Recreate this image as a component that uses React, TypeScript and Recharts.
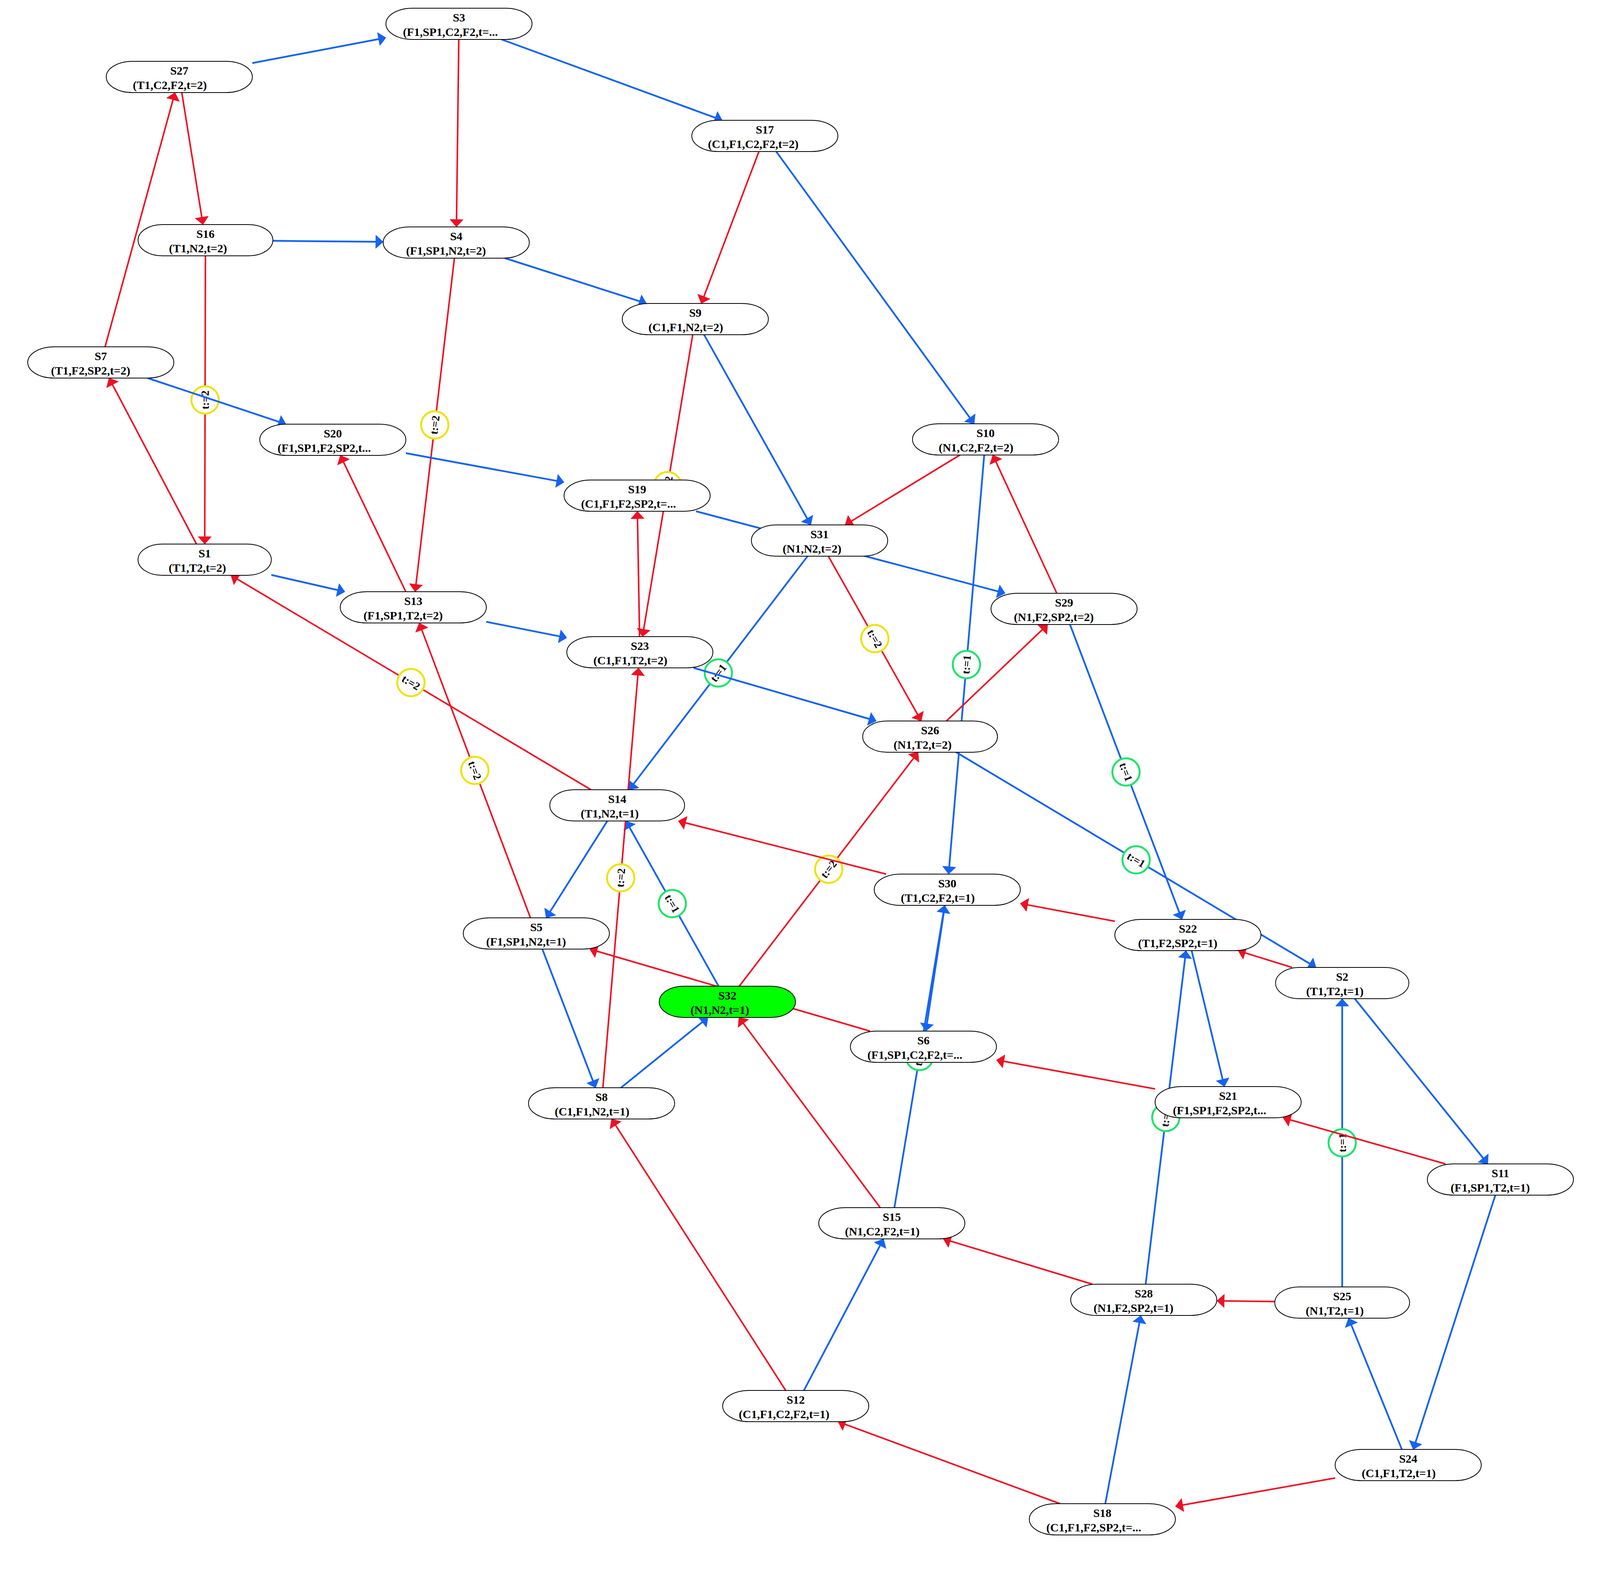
import React from "react";
import { ScatterChart, Scatter, XAxis, YAxis } from "recharts";

const WIDTH = 4178;
const HEIGHT = 4030;

// states (centre positions, in px of the 4178x4030 canvas)
const STATE_IDS = [
  "S1", "S2", "S3", "S4", "S5", "S6", "S7", "S8", "S9", "S10", "S11",
  "S12", "S13", "S14", "S15", "S16", "S17", "S18", "S19", "S20", "S21",
  "S22", "S23", "S24", "S25", "S26", "S27", "S28", "S29", "S30", "S31", "S32",
];
const STATE_X = [
  524, 3436, 1175, 1168, 1373, 2364, 258, 1540, 1780, 2523, 3841,
  2037, 1058, 1580, 2283, 526, 1958, 2822, 1631, 852, 3144,
  3041, 1638, 3605, 3436, 2381, 459, 2928, 2724, 2425, 2098, 1862,
];
const STATE_Y = [
  1433, 2517, 61, 621, 2390, 2680, 928, 2825, 817, 1125, 3020,
  3600, 1555, 2062, 3132, 615, 348, 3890, 1269, 1126, 2822,
  2394, 1670, 3751, 3335, 1886, 197, 3328, 1559, 2278, 1384, 2565,
];
const STATE_VARS = [
  "(T1,T2,t=2)", "(T1,T2,t=1)", "(F1,SP1,C2,F2,t=...", "(F1,SP1,N2,t=2)",
  "(F1,SP1,N2,t=1)", "(F1,SP1,C2,F2,t=...", "(T1,F2,SP2,t=2)", "(C1,F1,N2,t=1)",
  "(C1,F1,N2,t=2)", "(N1,C2,F2,t=2)", "(F1,SP1,T2,t=1)", "(C1,F1,C2,F2,t=1)",
  "(F1,SP1,T2,t=2)", "(T1,N2,t=1)", "(N1,C2,F2,t=1)", "(T1,N2,t=2)",
  "(C1,F1,C2,F2,t=2)", "(C1,F1,F2,SP2,t=...", "(C1,F1,F2,SP2,t=...", "(F1,SP1,F2,SP2,t...",
  "(F1,SP1,F2,SP2,t...", "(T1,F2,SP2,t=1)", "(C1,F1,T2,t=2)", "(C1,F1,T2,t=1)",
  "(N1,T2,t=1)", "(N1,T2,t=2)", "(T1,C2,F2,t=2)", "(N1,F2,SP2,t=1)",
  "(N1,F2,SP2,t=2)", "(T1,C2,F2,t=1)", "(N1,N2,t=2)", "(N1,N2,t=1)",
];
const INITIAL_STATE = "S32";

// transitions
const BLUE_EDGES: [string, string][] = [
  ["S27", "S3"], ["S3", "S17"], ["S16", "S4"], ["S4", "S9"], ["S17", "S10"],
  ["S9", "S31"], ["S7", "S20"], ["S20", "S19"], ["S19", "S29"], ["S1", "S13"],
  ["S13", "S23"], ["S31", "S14"], ["S23", "S26"], ["S10", "S30"], ["S26", "S2"],
  ["S29", "S22"], ["S14", "S5"], ["S32", "S14"], ["S5", "S8"], ["S8", "S32"],
  ["S30", "S6"], ["S15", "S30"], ["S12", "S15"], ["S22", "S21"], ["S28", "S22"],
  ["S2", "S11"], ["S25", "S2"], ["S11", "S24"], ["S24", "S25"], ["S18", "S28"],
];
const RED_EDGES: [string, string][] = [
  ["S3", "S4"], ["S27", "S16"], ["S7", "S27"], ["S16", "S1"], ["S1", "S7"],
  ["S4", "S13"], ["S17", "S9"], ["S9", "S23"], ["S13", "S20"], ["S23", "S19"],
  ["S10", "S31"], ["S31", "S26"], ["S29", "S10"], ["S26", "S29"], ["S14", "S1"],
  ["S5", "S13"], ["S8", "S23"], ["S32", "S26"], ["S30", "S14"], ["S22", "S30"],
  ["S2", "S22"], ["S6", "S5"], ["S15", "S32"], ["S21", "S6"], ["S11", "S21"],
  ["S28", "S15"], ["S25", "S28"], ["S12", "S8"], ["S18", "S12"], ["S24", "S18"],
];

// edges carrying a clock reset
const RESET_T1 = ["S31-S14", "S10-S30", "S26-S2", "S29-S22", "S32-S14", "S15-S30", "S28-S22", "S25-S2"];
const RESET_T2 = ["S16-S1", "S4-S13", "S9-S23", "S31-S26", "S14-S1", "S5-S13", "S8-S23", "S32-S26"];

const BLUE = "#1463f3";
const RED = "#ef1023";
const GREEN_RING = "#20e36c";
const YELLOW_RING = "#eee20f";
const FONT = "'Liberation Serif', 'Times New Roman', serif";
const NODE_H = 80;
const ARROW_LEN = 19;
const ARROW_HALF = 17;

// Times-Bold advance widths (em) for the glyphs used in the labels
const CHAR_EM: Record<string, number> = {
  "(": 0.333, ")": 0.333, ",": 0.25, ".": 0.25, "=": 0.57,
  T: 0.667, C: 0.722, F: 0.611, N: 0.722, S: 0.556, P: 0.611, t: 0.333,
};
const textWidth = (s: string, size = 30) =>
  s.split("").reduce((a, ch) => a + (CHAR_EM[ch] ?? 0.5), 0) * size;
const nodeWidth = (vars: string) => Math.min(2.32 * textWidth(vars), 374);

const halfBox = (id: string) => {
  const i = STATE_IDS.indexOf(id);
  return [nodeWidth(STATE_VARS[i]) / 2, NODE_H / 2];
};
const pos = (id: string) => {
  const i = STATE_IDS.indexOf(id);
  return { x: STATE_X[i], y: STATE_Y[i] };
};

// distance from a box centre to its border along a unit direction
const clip = (ux: number, uy: number, hw: number, hh: number) => {
  const tx = Math.abs(ux) > 1e-9 ? hw / Math.abs(ux) : Infinity;
  const ty = Math.abs(uy) > 1e-9 ? hh / Math.abs(uy) : Infinity;
  return Math.min(tx, ty);
};

const edgeLine =
  (from: string, to: string, color: string, reset?: string) => (props: any) => {
    const pts = props.points;
    if (!pts || pts.length < 2) return <g />;
    const p = pts[0];
    const q = pts[1];
    const dx = q.x - p.x;
    const dy = q.y - p.y;
    const len = Math.hypot(dx, dy);
    const ux = dx / len;
    const uy = dy / len;
    const [sw, sh] = halfBox(from);
    const [tw, th] = halfBox(to);
    const t0 = clip(ux, uy, sw, sh);
    const t1 = len - clip(ux, uy, tw, th);
    const tipX = p.x + ux * t1;
    const tipY = p.y + uy * t1;
    const bx = tipX - ux * ARROW_LEN;
    const by = tipY - uy * ARROW_LEN;
    const nx = -uy;
    const ny = ux;
    let ang = (Math.atan2(dy, dx) * 180) / Math.PI;
    if (ang > 90) ang -= 180;
    if (ang < -90) ang += 180;
    const mx = (p.x + q.x) / 2;
    const my = (p.y + q.y) / 2;
    return (
      <g>
        <line
          x1={p.x + ux * t0}
          y1={p.y + uy * t0}
          x2={bx + ux * 2}
          y2={by + uy * 2}
          stroke={color}
          strokeWidth={color === BLUE ? 4.5 : 4}
        />
        <polygon
          points={`${tipX},${tipY} ${bx + nx * ARROW_HALF},${by + ny * ARROW_HALF} ${bx - nx * ARROW_HALF},${by - ny * ARROW_HALF}`}
          fill={color}
          stroke={color}
          strokeWidth={1}
        />
        {reset && (
          <g transform={`translate(${mx},${my})`}>
            <circle r={35} fill="#fff" stroke={reset === "t:=1" ? GREEN_RING : YELLOW_RING} strokeWidth={5} />
            <text
              transform={`rotate(${ang})`}
              textAnchor="middle"
              dominantBaseline="central"
              fontFamily={FONT}
              fontWeight="bold"
              fontSize={28}
              fill="#000"
            >
              {reset}
            </text>
          </g>
        )}
      </g>
    );
  };

const NoDot = () => <g />;

const StateShape = (props: any) => {
  const { cx, cy, payload } = props;
  const w = nodeWidth(payload.vars);
  const tw = textWidth(payload.vars);
  const shift = payload.vars.endsWith("...") ? 22 : 0.128 * tw;
  return (
    <g>
      <rect
        x={cx - w / 2}
        y={cy - NODE_H / 2}
        width={w}
        height={NODE_H}
        rx={0.18 * w}
        ry={NODE_H / 2}
        fill={payload.id === INITIAL_STATE ? "#00ff00" : "#fff"}
        stroke="#000"
        strokeWidth={2}
      />
      <text x={cx} y={cy - 6} textAnchor="middle" fontFamily={FONT} fontWeight="bold" fontSize={30} fill="#000">
        {payload.id}
      </text>
      <text x={cx - shift} y={cy + 31} textAnchor="middle" fontFamily={FONT} fontWeight="bold" fontSize={30} fill="#000">
        {payload.vars}
      </text>
    </g>
  );
};

const App = () => {
  const resetOf = (from: string, to: string) => {
    const k = `${from}-${to}`;
    if (RESET_T1.includes(k)) return "t:=1";
    if (RESET_T2.includes(k)) return "t:=2";
    return undefined;
  };
  const edges = [
    ...BLUE_EDGES.map(([f, t]) => ({ from: f, to: t, color: BLUE, reset: resetOf(f, t) })),
    ...RED_EDGES.map(([f, t]) => ({ from: f, to: t, color: RED, reset: resetOf(f, t) })),
  ];
  // labelled transitions first so plain edges may cross their rings
  const ordered = [...edges.filter((e) => e.reset), ...edges.filter((e) => !e.reset)];

  const states = STATE_IDS.map((id, i) => ({ id, x: STATE_X[i], y: STATE_Y[i], vars: STATE_VARS[i] }));

  return (
    <div style={{ width: WIDTH, height: HEIGHT, background: "#fff" }}>
      <style>{"body{margin:0;background:#fff}"}</style>
      <ScatterChart width={WIDTH} height={HEIGHT} margin={{ top: 0, right: 0, bottom: 0, left: 0 }}>
        <XAxis type="number" dataKey="x" domain={[0, WIDTH]} hide allowDataOverflow />
        <YAxis type="number" dataKey="y" domain={[0, HEIGHT]} reversed hide allowDataOverflow />
        {ordered.map((e) => (
          <Scatter
            key={`${e.from}-${e.to}`}
            data={[pos(e.from), pos(e.to)]}
            line={edgeLine(e.from, e.to, e.color, e.reset)}
            shape={NoDot}
            fill={e.color}
            isAnimationActive={false}
            legendType="none"
          />
        ))}
        <Scatter data={states} shape={StateShape} isAnimationActive={false} legendType="none" />
      </ScatterChart>
    </div>
  );
};

export default App;
